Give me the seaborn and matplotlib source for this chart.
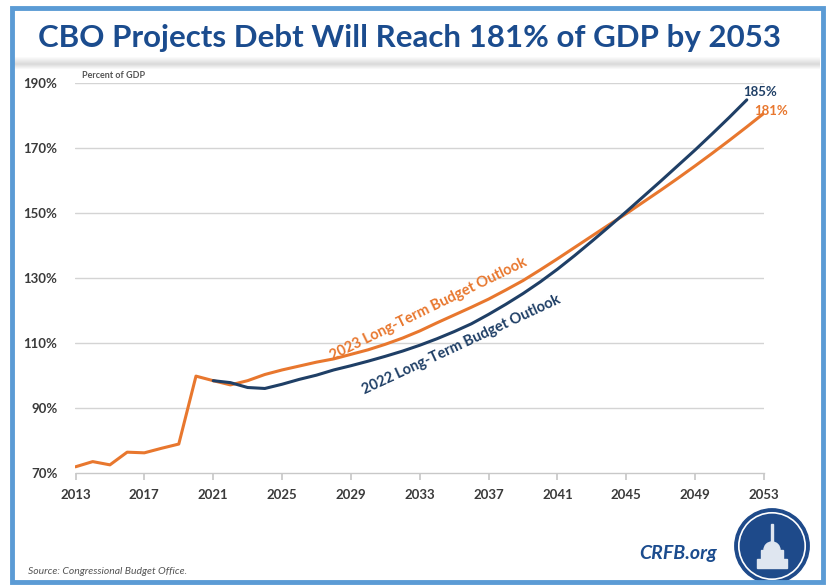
import numpy as np
import pandas as pd
import matplotlib
matplotlib.use("Agg")
import matplotlib.pyplot as plt
import seaborn as sns
from matplotlib.patches import Rectangle, Circle

# datos (deuda en % del PIB)
anios_hist = list(range(2013, 2022))
deuda_hist = [72.0, 73.6, 72.6, 76.5, 76.3, 77.7, 79.0, 99.9, 98.5]

anios_2023 = list(range(2021, 2054))
deuda_2023 = [98.5, 97.2, 98.5, 100.4, 101.8, 103.0, 104.2, 105.2, 106.6, 108.0,
              109.7, 111.6, 113.8, 116.3, 118.7, 121.1, 123.6, 126.4, 129.3, 132.6,
              136.0, 139.5, 143.0, 146.5, 149.9, 153.5, 157.1, 160.8, 164.6, 168.5,
              172.5, 176.6, 180.8]

anios_2022 = list(range(2021, 2053))
deuda_2022 = [98.5, 97.9, 96.4, 96.1, 97.4, 98.9, 100.2, 101.8, 103.1, 104.5,
              106.0, 107.6, 109.4, 111.4, 113.6, 116.0, 118.9, 122.0, 125.3, 128.9,
              132.8, 137.0, 141.4, 145.9, 150.5, 155.2, 159.9, 164.7, 169.5, 174.5,
              179.6, 184.9]

ticks_x = list(range(2013, 2054, 4))
ticks_y = [70, 90, 110, 130, 150, 170, 190]

titulo = "CBO Projects Debt Will Reach 181% of GDP by 2053"
etiqueta_2023 = "2023 Long-Term Budget Outlook"
etiqueta_2022 = "2022 Long-Term Budget Outlook"

naranja = "#E8772E"
azul = "#1F3F66"
azul_titulo = "#1B4C8E"
gris_txt = "#3A3A3A"

df_hist = pd.DataFrame({"anio": anios_hist, "deuda": deuda_hist})
df_23 = pd.DataFrame({"anio": anios_2023, "deuda": deuda_2023})
df_22 = pd.DataFrame({"anio": anios_2022, "deuda": deuda_2022})

sns.set_theme(style="white")
plt.rcParams["font.family"] = ["Lato", "DejaVu Sans"]

W, H = 828, 586
fig = plt.figure(figsize=(W / 100, H / 100), dpi=100)
fig.patch.set_facecolor("white")

ax = fig.add_axes([75.5 / W, 1 - 473.3 / H, (764 - 75.5) / W, (473.3 - 83.3) / H])

sns.lineplot(data=df_hist, x="anio", y="deuda", color=naranja, lw=2.2, ax=ax)
sns.lineplot(data=df_23, x="anio", y="deuda", color=naranja, lw=2.2, ax=ax)
sns.lineplot(data=df_22, x="anio", y="deuda", color=azul, lw=2.2, ax=ax)

ax.set_xlim(2013, 2053)
ax.set_ylim(70, 190)
ax.set_xticks(ticks_x)
ax.set_yticks(ticks_y)
ax.set_xticklabels([str(t) for t in ticks_x], fontsize=9.5, fontweight="bold", color=gris_txt)
ax.set_yticklabels([f"{t}%" for t in ticks_y], fontsize=9.5, fontweight="bold", color=gris_txt)
ax.set_xlabel("")
ax.set_ylabel("")
for t in ticks_y[1:]:
    ax.axhline(t, color="#d4d4d4", lw=1, zorder=0)
for s in ["top", "right", "left"]:
    ax.spines[s].set_visible(False)
ax.spines["bottom"].set_color("#c8c8c8")
ax.spines["bottom"].set_linewidth(1)
ax.tick_params(axis="x", length=5, color="#c8c8c8", pad=6, bottom=True)
ax.tick_params(axis="y", length=0, pad=13)
ax.patch.set_alpha(0)

# etiquetas de las series
ax.text(2033.5, 120.6, etiqueta_2023, color=naranja, fontsize=10.5, fontweight="bold",
        rotation=26, ha="center", va="center", rotation_mode="anchor")
ax.text(2035.4, 109.4, etiqueta_2022, color=azul, fontsize=10.5, fontweight="bold",
        rotation=25, ha="center", va="center", rotation_mode="anchor")
ax.text(2052.8, 187.2, "185%", color=azul, fontsize=9.5, fontweight="bold", ha="center", va="center")
ax.text(2053.4, 181.6, "181%", color=naranja, fontsize=9.5, fontweight="bold", ha="center", va="center")

fig.text(82 / W, 1 - 75 / H, "Percent of GDP", fontsize=6.5, fontweight="bold",
         color="#555555", ha="left", va="center")

# titulo
fig.text(410 / W, 1 - 38 / H, titulo, fontsize=22.5, fontweight="bold", color=azul_titulo,
         ha="center", va="center")

# banda gris bajo el titulo
banda = fig.add_axes([14 / W, 1 - 70 / H, (820 - 14) / W, 14 / H])
grad = np.concatenate([np.linspace(1, 0.86, 8), np.linspace(0.86, 1, 6)])[:, None]
banda.imshow(np.repeat(grad, 10, axis=1), cmap="gray", vmin=0, vmax=1, aspect="auto")
banda.axis("off")

# fuente y logo
fig.text(28 / W, 1 - 572 / H, "Source: Congressional Budget Office.", fontsize=7.5,
         style="italic", color="#555555", ha="left", va="center")
fig.text(678 / W, 1 - 553 / H, "CRFB.org", fontsize=14, fontweight="bold", style="italic",
         color=azul_titulo, ha="center", va="center")

logo = fig.add_axes([(772 - 40) / W, 1 - (546 + 40) / H, 80 / W, 80 / H])
logo.set_xlim(-1, 1)
logo.set_ylim(-1, 1)
logo.set_aspect("equal")
logo.axis("off")
logo.add_patch(Circle((0, 0), 0.93, color="#1E4A8A"))
logo.add_patch(Circle((0, 0), 0.83, fill=False, ec="white", lw=1.2))
logo.add_patch(Rectangle((-0.38, -0.55), 0.76, 0.22, color="#dfe6f0"))
logo.add_patch(Rectangle((-0.28, -0.33), 0.56, 0.22, color="#dfe6f0"))
logo.add_patch(Circle((0, -0.1), 0.2, color="#dfe6f0"))
logo.add_patch(Rectangle((-0.03, -0.05), 0.06, 0.6, color="#dfe6f0"))

# marco azul
fig.add_artist(Rectangle((12 / W, 4 / H), (823 - 12) / W, (578 - 4) / H, transform=fig.transFigure,
                         fill=False, ec="#5B9BD5", lw=3.5))

fig.savefig("out.png", dpi=100, facecolor="white")
plt.close()
